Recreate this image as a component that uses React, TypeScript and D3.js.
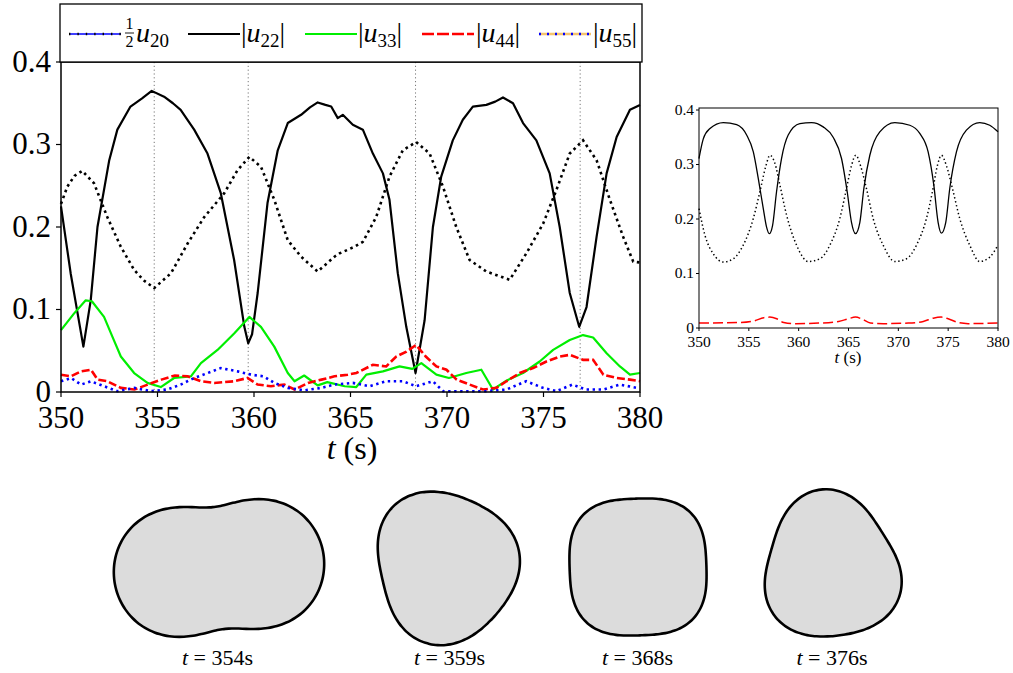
import React from "react";
import * as d3 from "d3";

type P = [number, number];

// ---------- DATA ----------
const xTicks = [350, 355, 360, 365, 370, 375, 380];
const yTicks = [0, 0.1, 0.2, 0.3, 0.4];
const yTickLabels = ["0", "0.1", "0.2", "0.3", "0.4"];
const snapshotTimes = [354.83, 359.7, 368.37, 376.9];
const snapshotLabels = ["354", "359", "368", "376"];
const legendSubs = ["20", "22", "33", "44", "55"];

// main panel series [t (s), value]
const halfU20: P[] = [
  [350, 0.013], [350.52, 0.017], [351.04, 0.009], [351.55, 0.013], [352.23, 0.007], [352.92, 0.001],
  [353.8, 0.005], [354.65, 0.001], [355.5, 0.003], [356.2, 0.009], [356.9, 0.017], [357.6, 0.023],
  [358.28, 0.029], [359.15, 0.025], [359.85, 0.021], [360.5, 0.019], [361.05, 0.011], [361.75, 0.005],
  [362.6, 0.002], [363.5, 0.005], [364.17, 0.009], [365.12, 0.011], [365.99, 0.007], [366.85, 0.013],
  [367.71, 0.013], [368.4, 0.007], [369.27, 0.013], [369.8, 0.001], [371.0, 0.001], [372.04, 0.001],
  [373.08, 0.003], [374.1, 0.013], [374.98, 0.005], [375.67, 0.001], [376.5, 0.009], [377.2, 0.003],
  [378.1, 0.003], [378.96, 0.009], [379.83, 0.005],
];

const absU22: P[] = [
  [350, 0.225], [350.5, 0.144], [351.16, 0.055], [351.54, 0.111], [351.89, 0.2], [352.5, 0.281],
  [352.92, 0.318], [353.6, 0.346], [354.2, 0.356], [354.7, 0.365], [355.34, 0.358], [355.8, 0.35],
  [356.2, 0.342], [356.9, 0.318], [357.59, 0.289], [358.28, 0.241], [358.97, 0.16], [359.5, 0.079],
  [359.7, 0.059], [359.9, 0.07], [360.19, 0.12], [360.7, 0.229], [361.23, 0.293], [361.75, 0.326],
  [362.44, 0.336], [362.9, 0.345], [363.3, 0.351], [363.7, 0.348], [364.0, 0.346], [364.34, 0.332],
  [364.6, 0.336], [365.12, 0.324], [365.64, 0.318], [366.16, 0.289], [366.68, 0.265], [367.02, 0.233],
  [367.45, 0.144], [367.89, 0.079], [368.37, 0.023], [368.84, 0.087], [369.27, 0.2], [369.7, 0.261],
  [370.3, 0.305], [370.82, 0.33], [371.34, 0.346], [372.04, 0.348], [372.5, 0.352], [372.9, 0.357],
  [373.42, 0.35], [373.94, 0.326], [374.63, 0.305], [375.32, 0.265], [375.84, 0.2], [376.36, 0.12],
  [376.85, 0.079], [377.23, 0.103], [377.75, 0.188], [378.27, 0.265], [378.79, 0.309], [379.48, 0.342],
  [380, 0.348],
];

const dottedBlack: P[] = [
  [350, 0.228], [350.33, 0.249], [350.7, 0.262], [351.1, 0.268], [351.71, 0.253], [352.4, 0.212],
  [353.1, 0.176], [353.79, 0.148], [354.3, 0.135], [354.83, 0.126], [355.7, 0.144], [356.56, 0.18],
  [357.42, 0.212], [358.46, 0.241], [359.15, 0.269], [359.76, 0.285], [360.36, 0.273], [361.05, 0.233],
  [361.75, 0.184], [362.44, 0.164], [363.3, 0.146], [364.17, 0.164], [364.43, 0.168], [365.2, 0.176],
  [365.64, 0.182], [366.33, 0.212], [367.02, 0.261], [367.71, 0.293], [368.4, 0.303], [369.1, 0.289],
  [369.79, 0.249], [370.48, 0.2], [371.17, 0.16], [372.04, 0.146], [373.25, 0.136], [374.11, 0.168],
  [374.98, 0.204], [375.67, 0.245], [376.36, 0.289], [377.05, 0.305], [377.75, 0.281], [378.44, 0.233],
  [379.13, 0.188], [379.65, 0.158], [380, 0.157],
];

const absU33: P[] = [
  [350, 0.075], [350.67, 0.095], [351.27, 0.111], [351.6, 0.11], [352.23, 0.091], [352.7, 0.065],
  [353.1, 0.043], [353.79, 0.023], [354.48, 0.011], [355.17, 0.006], [355.86, 0.017], [356.73, 0.019],
  [357.25, 0.035], [358.11, 0.051], [358.97, 0.071], [359.76, 0.091], [360.36, 0.079], [361.05, 0.055],
  [361.75, 0.023], [362.1, 0.013], [362.6, 0.02], [363.3, 0.008], [363.8, 0.012], [364.7, 0.007],
  [365.3, 0.006], [365.82, 0.021], [366.68, 0.025], [367.54, 0.031], [368.2, 0.028], [368.67, 0.035],
  [369.45, 0.021], [370.1, 0.017], [371.0, 0.023], [371.78, 0.027], [372.38, 0.003], [373.1, 0.014],
  [373.94, 0.023], [374.8, 0.037], [375.5, 0.051], [376.36, 0.063], [377.05, 0.069], [377.57, 0.066],
  [378.27, 0.047], [378.96, 0.031], [379.48, 0.021], [380, 0.023],
];

const absU44: P[] = [
  [350, 0.021], [350.52, 0.019], [351.04, 0.025], [351.55, 0.027], [351.9, 0.015], [352.4, 0.013],
  [353.1, 0.005], [353.8, 0.003], [354.5, 0.009], [355.2, 0.015], [355.9, 0.02], [356.56, 0.019],
  [357.25, 0.013], [357.94, 0.011], [358.97, 0.013], [359.66, 0.017], [360.19, 0.009], [360.88, 0.007],
  [361.57, 0.009], [362.1, 0.003], [362.8, 0.011], [363.5, 0.015], [364.17, 0.019], [364.86, 0.021],
  [365.3, 0.023], [366.16, 0.033], [366.85, 0.031], [367.37, 0.043], [367.9, 0.049], [368.4, 0.057],
  [368.9, 0.043], [369.45, 0.031], [369.97, 0.027], [370.5, 0.015], [371.17, 0.009], [371.86, 0.003],
  [372.56, 0.005], [373.08, 0.013], [373.77, 0.023], [374.46, 0.029], [375.15, 0.037], [375.84, 0.043],
  [376.36, 0.045], [377.05, 0.039], [377.57, 0.039], [378.1, 0.021], [378.79, 0.017], [379.48, 0.015],
  [380, 0.013],
];

// inset series
const insetSolid: P[] = [
  [350, 0.311], [350.43, 0.347], [351.1, 0.366], [352.44, 0.377], [353.78, 0.373], [354.78, 0.354],
  [355.45, 0.323], [355.95, 0.274], [356.45, 0.219], [356.78, 0.185], [357.05, 0.173], [357.38, 0.188],
  [357.78, 0.25], [358.28, 0.311], [358.95, 0.354], [360.12, 0.375], [361.29, 0.377], [362.46, 0.369],
  [363.46, 0.35], [364.3, 0.311], [364.87, 0.25], [365.3, 0.194], [365.7, 0.173], [366.14, 0.194],
  [366.54, 0.256], [367.14, 0.317], [368.14, 0.36], [369.65, 0.377], [371.15, 0.372], [372.15, 0.357],
  [372.99, 0.323], [373.56, 0.262], [373.99, 0.194], [374.32, 0.174], [374.76, 0.194], [375.16, 0.256],
  [375.83, 0.323], [376.83, 0.363], [378.17, 0.377], [379.17, 0.372], [380, 0.36],
];

const insetDotted: P[] = [
  [350, 0.219], [350.6, 0.17], [351.44, 0.136], [352.44, 0.121], [353.44, 0.127], [354.44, 0.152],
  [355.45, 0.201], [356.11, 0.25], [356.72, 0.298], [357.12, 0.317], [357.62, 0.302], [358.12, 0.262],
  [358.79, 0.207], [359.79, 0.152], [360.96, 0.122], [362.13, 0.127], [363.13, 0.152], [364.13, 0.201],
  [364.8, 0.256], [365.3, 0.298], [365.74, 0.317], [366.2, 0.298], [366.8, 0.256], [367.47, 0.201],
  [368.48, 0.152], [369.65, 0.122], [370.82, 0.127], [371.82, 0.152], [372.82, 0.201], [373.42, 0.25],
  [373.92, 0.298], [374.32, 0.317], [374.82, 0.298], [375.43, 0.256], [376.16, 0.201], [377.16, 0.152],
  [378.17, 0.122], [379.17, 0.13], [380, 0.152],
];

const insetDashed: P[] = [
  [350, 0.009], [354, 0.01], [355.5, 0.013], [356.5, 0.019], [357.1, 0.02], [357.8, 0.017],
  [358.5, 0.01], [359.5, 0.008], [362, 0.009], [364, 0.012], [365, 0.017], [365.7, 0.02],
  [366.4, 0.016], [367.2, 0.009], [368.5, 0.008], [371, 0.009], [372.5, 0.012], [373.5, 0.018],
  [374.3, 0.02], [375, 0.017], [376, 0.01], [377, 0.008], [380, 0.009],
];

// drop-shape snapshots: mean radius and mode amplitudes / phases (deg)
const shapeRadius = [85, 73, 72, 70];
const shapeA2 = [0.26, 0.045, 0.0, 0.05];
const shapePhi2 = [-6, 77, 0, 81];
const shapeA3 = [0.0, 0.065, 0.0, 0.08];
const shapePhi3 = [0, -13, 0, 22];
const shapeA4 = [-0.02, 0.0, 0.05, 0.0];
const shapePhi4 = [-6, 0, 43, 0];

// ---------- LAYOUT ----------
const W = 1013;
const H = 673;
const TXT: React.CSSProperties = { fontFamily: "Liberation Serif" };
const main = { left: 61, right: 640, top: 62, bottom: 392 };
const inset = { left: 699, right: 998, top: 108, bottom: 328 };
const shapeCx = [219, 446, 638, 831];
const shapeCy = [568, 566, 567, 568];
const labelCx = [217.5, 449.5, 637.5, 832];

const xMain = d3.scaleLinear().domain([350, 380]).range([main.left, main.right]);
const yMain = d3.scaleLinear().domain([0, 0.4]).range([main.bottom, main.top]);
const xIn = d3.scaleLinear().domain([350, 380]).range([inset.left, inset.right]);
const yIn = d3.scaleLinear().domain([0, 0.4]).range([inset.bottom, 110]);

const lineMain = d3
  .line<P>()
  .x((d) => xMain(d[0]))
  .y((d) => yMain(d[1]))
  .curve(d3.curveLinear);
const lineIn = d3
  .line<P>()
  .x((d) => xIn(d[0]))
  .y((d) => yIn(d[1]))
  .curve(d3.curveMonotoneX);

function blobPath(i: number): string {
  const R = shapeRadius[i];
  const rad = Math.PI / 180;
  const pts: P[] = d3.range(0, 360, 3).map((deg) => {
    const th = deg * rad;
    const r =
      R *
      (1 +
        shapeA2[i] * Math.cos(2 * (th - shapePhi2[i] * rad)) +
        shapeA3[i] * Math.cos(3 * (th - shapePhi3[i] * rad)) +
        shapeA4[i] * Math.cos(4 * (th - shapePhi4[i] * rad)));
    return [shapeCx[i] + r * Math.cos(th), shapeCy[i] + r * Math.sin(th)];
  });
  return d3.line<P>().curve(d3.curveCardinalClosed)(pts) || "";
}

function ModeLabel({ x, sub }: { x: number; sub: string }) {
  return (
    <text x={x} y={42} style={TXT} fontSize={28}>
      <tspan>|</tspan>
      <tspan fontStyle="italic">u</tspan>
      <tspan fontSize={19} dy={5}>
        {sub}
      </tspan>
      <tspan dy={-5}>|</tspan>
    </text>
  );
}

export default function App() {
  const legendY = 34;
  return (
    <svg
      width={W}
      height={H}
      viewBox={`0 0 ${W} ${H}`}
      style={{ position: "absolute", left: 0, top: 0, background: "#fff" }}
    >
      <rect x={0} y={0} width={W} height={H} fill="#fff" />

      {/* ===== MAIN PANEL ===== */}
      <g>
        {snapshotTimes.map((t, i) => (
          <line
            key={i}
            x1={xMain(t)}
            x2={xMain(t)}
            y1={main.top}
            y2={main.bottom}
            stroke="#777"
            strokeWidth={1}
            strokeDasharray="1.2,2.6"
          />
        ))}
        <path d={lineMain(dottedBlack) || ""} fill="none" stroke="#000" strokeWidth={2.6} strokeDasharray="2.6,3.6" />
        <path d={lineMain(absU22) || ""} fill="none" stroke="#000" strokeWidth={2.2} strokeLinejoin="round" />
        <path d={lineMain(absU33) || ""} fill="none" stroke="#00ee00" strokeWidth={2.2} strokeLinejoin="round" />
        <path d={lineMain(absU44) || ""} fill="none" stroke="#ff0000" strokeWidth={2.6} strokeDasharray="8,3" />
        <path d={lineMain(halfU20) || ""} fill="none" stroke="#0000ff" strokeWidth={2.6} strokeDasharray="2.4,3.6" />

        <rect
          x={main.left}
          y={main.top}
          width={main.right - main.left}
          height={main.bottom - main.top}
          fill="none"
          stroke="#000"
          strokeWidth={1.5}
        />
        {xTicks.map((t) => (
          <g key={t}>
            <line x1={xMain(t)} x2={xMain(t)} y1={main.bottom} y2={main.bottom + 5} stroke="#000" strokeWidth={1.2} />
            <text x={xMain(t)} y={428} textAnchor="middle" style={TXT} fontSize={31}>
              {t}
            </text>
          </g>
        ))}
        {yTicks.map((v, i) => (
          <g key={v}>
            <line x1={main.left - 5} x2={main.left} y1={yMain(v)} y2={yMain(v)} stroke="#000" strokeWidth={1.2} />
            <text x={51} y={yMain(v)} dy="0.32em" textAnchor="end" style={TXT} fontSize={31}>
              {yTickLabels[i]}
            </text>
          </g>
        ))}
        <text x={352} y={459} textAnchor="middle" style={TXT} fontSize={32}>
          <tspan fontStyle="italic">t</tspan>
          <tspan> (s)</tspan>
        </text>
      </g>

      {/* ===== LEGEND ===== */}
      <g>
        <rect x={60} y={4} width={582} height={58} fill="#fff" stroke="#000" strokeWidth={1.3} />
        {/* 1/2 u20 */}
        <line x1={69} x2={121} y1={legendY} y2={legendY} stroke="#0000ff" strokeWidth={1.4} />
        <line x1={69} x2={121} y1={legendY} y2={legendY} stroke="#000" strokeWidth={2.4} strokeDasharray="1.4,7" />
        <text x={129.5} y={29} textAnchor="middle" style={TXT} fontSize={16}>
          1
        </text>
        <line x1={125} x2={134} y1={33} y2={33} stroke="#000" strokeWidth={0.9} />
        <text x={129.5} y={47} textAnchor="middle" style={TXT} fontSize={16}>
          2
        </text>
        <text x={136} y={42} style={TXT} fontSize={28}>
          <tspan fontStyle="italic">u</tspan>
          <tspan fontSize={19} dy={5}>
            {legendSubs[0]}
          </tspan>
        </text>
        {/* |u22| */}
        <line x1={188} x2={240} y1={legendY} y2={legendY} stroke="#000" strokeWidth={2.2} />
        <ModeLabel x={241} sub={legendSubs[1]} />
        {/* |u33| */}
        <line x1={305} x2={357} y1={legendY} y2={legendY} stroke="#00ee00" strokeWidth={2.2} />
        <ModeLabel x={358} sub={legendSubs[2]} />
        {/* |u44| */}
        <line x1={422} x2={474} y1={legendY} y2={legendY} stroke="#ff0000" strokeWidth={2.6} strokeDasharray="12,3" />
        <ModeLabel x={476} sub={legendSubs[3]} />
        {/* |u55| */}
        <line x1={539} x2={591} y1={legendY} y2={legendY} stroke="#f5c46e" strokeWidth={2.6} />
        <line x1={539} x2={591} y1={legendY} y2={legendY} stroke="#0000ff" strokeWidth={2.6} strokeDasharray="2,6" />
        <ModeLabel x={593} sub={legendSubs[4]} />
      </g>

      {/* ===== INSET ===== */}
      <g>
        <path d={lineIn(insetDotted) || ""} fill="none" stroke="#000" strokeWidth={1.5} strokeDasharray="1.4,2.6" />
        <path d={lineIn(insetSolid) || ""} fill="none" stroke="#000" strokeWidth={1.3} />
        <path d={lineIn(insetDashed) || ""} fill="none" stroke="#ff0000" strokeWidth={1.5} strokeDasharray="10,4" />
        <rect
          x={inset.left}
          y={inset.top}
          width={inset.right - inset.left}
          height={inset.bottom - inset.top}
          fill="none"
          stroke="#000"
          strokeWidth={1}
        />
        {xTicks.map((t) => (
          <g key={t}>
            <line x1={xIn(t)} x2={xIn(t)} y1={inset.bottom} y2={inset.bottom + 3} stroke="#000" strokeWidth={1} />
            <text x={xIn(t)} y={347} textAnchor="middle" style={TXT} fontSize={15.5}>
              {t}
            </text>
          </g>
        ))}
        {yTicks.map((v, i) => (
          <g key={v}>
            <line x1={inset.left - 3} x2={inset.left} y1={yIn(v)} y2={yIn(v)} stroke="#000" strokeWidth={1} />
            <text x={694} y={yIn(v)} dy="0.3em" textAnchor="end" style={TXT} fontSize={15.5}>
              {yTickLabels[i]}
            </text>
          </g>
        ))}
        <text x={848} y={363} textAnchor="middle" style={TXT} fontSize={17}>
          <tspan fontStyle="italic">t</tspan>
          <tspan> (s)</tspan>
        </text>
      </g>

      {/* ===== SHAPES ===== */}
      <g>
        {snapshotLabels.map((lab, i) => (
          <g key={lab}>
            <path d={blobPath(i)} fill="#dcdcdc" stroke="#000" strokeWidth={2.6} strokeLinejoin="round" />
            <text x={labelCx[i]} y={665} textAnchor="middle" style={TXT} fontSize={22}>
              <tspan fontStyle="italic">t</tspan>
              <tspan> = {lab}s</tspan>
            </text>
          </g>
        ))}
      </g>
    </svg>
  );
}
